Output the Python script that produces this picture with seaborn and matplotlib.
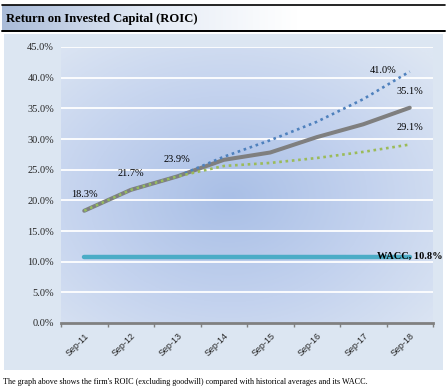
import numpy as np
import pandas as pd
import matplotlib
matplotlib.use("Agg")
import matplotlib.pyplot as plt
import seaborn as sns
from matplotlib.colors import LinearSegmentedColormap

# chart data
periods = ["Sep-11", "Sep-12", "Sep-13", "Sep-14", "Sep-15", "Sep-16", "Sep-17", "Sep-18"]
roic = [18.3, 21.7, 23.9, 26.6, 27.8, 30.3, 32.4, 35.1]
roic_high = [18.3, 21.7, 23.9, 27.1, 29.8, 32.8, 36.5, 41.0]
roic_avg = [18.3, 21.7, 23.9, 25.6, 26.1, 26.9, 27.9, 29.1]
wacc = [10.8] * 8
yticks = [0, 5, 10, 15, 20, 25, 30, 35, 40, 45]

sns.set_theme(style="white")
plt.rcParams["font.family"] = ["Liberation Serif", "DejaVu Serif"]

W, H = 447, 392
fig = plt.figure(figsize=(W / 100, H / 100), dpi=100)
fig.patch.set_facecolor("white")

def fx(px):
    return px / W

def fy(py):
    return 1 - py / H

# title band with gradient
tax = fig.add_axes([fx(2), fy(31), fx(443), (31 - 5) / H])
grad = np.linspace(0, 1, 256).reshape(1, -1)
tcm = LinearSegmentedColormap.from_list("t", ["#a9bbd8", "#e4ebf5", "#ffffff", "#ffffff"])
tax.imshow(grad, aspect="auto", cmap=tcm, extent=[0, 1, 0, 1])
tax.set_xlim(0, 1)
tax.set_ylim(0, 1)
tax.axis("off")
tax.text(0.008, 0.45, "Return on Invested Capital (ROIC)", fontsize=9.1, fontweight="bold",
         va="center", ha="left", color="black")
fig.add_artist(plt.Line2D([fx(2), fx(445)], [fy(5), fy(5)], color="black", lw=1.2))
fig.add_artist(plt.Line2D([fx(2), fx(445)], [fy(31), fy(31)], color="black", lw=1.4))

# outer panel
pax = fig.add_axes([fx(4), fy(370), fx(439), (370 - 34) / H])
pax.set_facecolor("#dce6f2")
pax.set_xticks([])
pax.set_yticks([])
for s in pax.spines.values():
    s.set_visible(False)

# plot area
ax = fig.add_axes([fx(61), fy(323), fx(372), (323 - 47) / H])
ax.set_xlim(-0.5, 7.5)
ax.set_ylim(0, 45)

gx, gy = np.meshgrid(np.linspace(0, 1, 300), np.linspace(0, 1, 300))
r = np.sqrt(((gx - 0.45) / 0.75) ** 2 + ((gy - 0.45) / 0.75) ** 2)
bcm = LinearSegmentedColormap.from_list("b", ["#a9bfe6", "#c3d2ee", "#dde6f3"])
ax.imshow(np.clip(r, 0, 1), aspect="auto", cmap=bcm, extent=[-0.5, 7.5, 0, 45],
          origin="lower", zorder=0)

for yv in yticks[1:]:
    ax.axhline(yv, color="white", lw=1.3, zorder=1)

df = pd.DataFrame({"pos": np.arange(len(periods)), "roic": roic, "high": roic_high,
                   "avg": roic_avg, "wacc": wacc})

sns.lineplot(data=df, x="pos", y="wacc", ax=ax, color="#4bacc6", lw=3.2, zorder=3)
sns.lineplot(data=df, x="pos", y="roic", ax=ax, color="#7f7f7f", lw=2.9, zorder=4)
sns.lineplot(data=df, x="pos", y="high", ax=ax, color="#4f81bd", lw=1.9,
             linestyle=(0, (1, 1.4)), zorder=5)
sns.lineplot(data=df, x="pos", y="avg", ax=ax, color="#9bbb59", lw=1.9,
             linestyle=(0, (1, 1.4)), zorder=6)

lab = dict(fontsize=7.5, color="black", ha="center", va="center", zorder=8)
for i in range(3):
    ax.annotate(f"{roic[i]:.1f}%", (i, roic[i]), xytext=(0, 12), textcoords="offset points", **lab)
ax.annotate(f"{roic[-1]:.1f}%", (7, roic[-1]), xytext=(0, 12), textcoords="offset points", **lab)
ax.annotate(f"{roic_avg[-1]:.1f}%", (7, roic_avg[-1]), xytext=(0, 12), textcoords="offset points", **lab)
ax.annotate(f"{roic_high[-1]:.1f}%", (7, roic_high[-1]), xytext=(-19, 1), textcoords="offset points", **lab)
ax.annotate(f"WACC, {wacc[-1]:.1f}%", (7, wacc[-1]), xytext=(0, 0), textcoords="offset points",
            fontsize=7.5, fontweight="bold", color="black", ha="center", va="center", zorder=8)

ax.set_yticks(yticks)
ax.set_yticklabels([f"{v:.1f}%" for v in yticks], fontsize=7.5)
ax.set_xticks(range(len(periods)))
ax.set_xticklabels(periods, rotation=45, ha="right", rotation_mode="anchor", fontsize=6.5,
                   family=["Liberation Sans", "DejaVu Sans"])
ax.set_xticks(np.arange(-0.5, 8, 1), minor=True)
ax.tick_params(axis="x", which="major", length=0, pad=6)
ax.tick_params(axis="x", which="minor", length=3, color="#808080", width=1, direction="out", bottom=True)
ax.tick_params(axis="y", length=0, pad=5)
ax.set_xlabel("")
ax.set_ylabel("")
for s in ["top", "right", "left"]:
    ax.spines[s].set_visible(False)
ax.spines["bottom"].set_color("#808080")
ax.spines["bottom"].set_linewidth(2)

fig.text(fx(3), fy(382), "The graph above shows the firm's ROIC (excluding goodwill) compared with historical averages and its WACC.",
         fontsize=5.85, ha="left", va="center", color="black")

fig.savefig("out.png", dpi=100)
